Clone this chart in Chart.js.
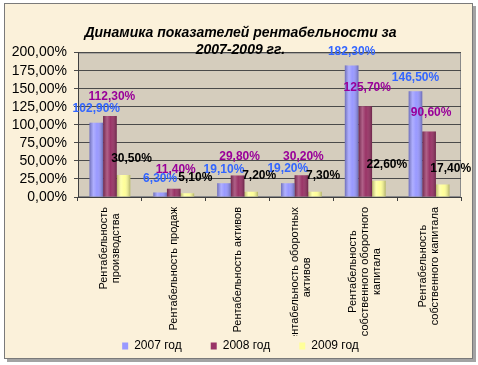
<!DOCTYPE html>
<html><head><meta charset="utf-8">
<script src="https://cdn.jsdelivr.net/npm/chart.js@4"></script>
<style>html,body{margin:0;padding:0;background:#fff;} canvas{display:block}</style>
</head><body>
<canvas id="c" width="478" height="365"></canvas>
<script>
// ---- data ----
const categories = [
  ["Рентабельность", "производства"],
  "Рентабельность продаж",
  "Рентабельность активов",
  ["Рентабельность оборотных", "активов"],
  ["Рентабельность", "собственного оборотного", "капитала"],
  ["Рентабельность", "собственного капитала"]
];
const seriesNames = ["2007 год", "2008 год", "2009 год"];
const values2007 = [102.9, 6.3, 19.1, 19.2, 182.3, 146.5];
const values2008 = [112.3, 11.4, 29.8, 30.2, 125.7, 90.6];
const values2009 = [30.5, 5.1, 7.2, 7.3, 22.6, 17.4];
const yMin = 0, yMax = 200, yStep = 25;
const titleLines = ["Динамика показателей рентабельности за", "2007-2009 гг."];

const fmt = v => v.toFixed(2).replace('.', ',') + '%';

const barColors = ['#9999ff', '#993366', '#ffff99'];
const labelColors = ['#3366ff', '#990099', '#000000'];
const labelOffsets = [[0, -14], [2, -19], [8, -16]];

const framePlugin = {
  id: 'frame',
  beforeDraw(chart) {
    const ctx = chart.ctx, a = chart.chartArea;
    ctx.save();
    ctx.fillStyle = '#ffffff';
    ctx.fillRect(0, 0, chart.width, chart.height);
    ctx.fillStyle = '#a3a3a3';
    ctx.fillRect(7, 6, 469, 356);
    ctx.fillStyle = '#fbf1da';
    ctx.fillRect(4.5, 3.5, 468, 355);
    ctx.strokeStyle = '#7a7a7a';
    ctx.lineWidth = 1;
    ctx.strokeRect(4.5, 3.5, 468, 355);
    ctx.fillStyle = '#d5cdbd';
    ctx.fillRect(a.left, a.top, a.right - a.left, a.bottom - a.top);
    ctx.strokeStyle = '#8a8a8a';
    ctx.strokeRect(a.left + 0.5, a.top + 0.5, a.right - a.left - 1, a.bottom - a.top - 1);
    ctx.restore();
  }
};

const labelPatch = {
  id: 'labelPatch',
  afterLayout(chart) {
    const y = chart.scales.y;
    if (!y._patched) {
      y._patched = true;
      y._computeLabelArea = function () { return undefined; };
    }
    const s = chart.scales.x;
    if (s._patched) return;
    s._patched = true;
    s._computeLabelArea = function () { return undefined; };
    const origItems = s.getLabelItems;
    s.getLabelItems = function (ca) {
      const items = origItems.call(this, ca);
      const ctx = this.ctx;
      items.forEach(it => {
        if (it._c) return;
        it._c = true;
        const lines = Array.isArray(it.label) ? it.label : [it.label];
        ctx.save();
        ctx.font = it.font.string;
        let w = 0;
        lines.forEach(l => { w = Math.max(w, ctx.measureText(l).width); });
        ctx.restore();
        it.options.textAlign = 'center';
        it.options.translation[1] += w / 2;
        it.options.translation[0] -= (lines.length - 1) * it.font.lineHeight / 2;
      });
      return items;
    };
    const origDraw = s.drawLabels;
    s.drawLabels = function (ca) {
      const ctx = this.ctx;
      ctx.save();
      ctx.beginPath();
      ctx.rect(0, 0, chart.width, 336);
      ctx.clip();
      origDraw.call(this, ca);
      ctx.restore();
    };
  }
};

const barShade = {
  id: 'barShade',
  afterDatasetsDraw(chart) {
    const ctx = chart.ctx;
    chart.data.datasets.forEach((ds, i) => {
      const meta = chart.getDatasetMeta(i);
      meta.data.forEach(el => {
        const p = el.getProps(['x', 'y', 'base', 'width'], true);
        const l = p.x - p.width / 2, r = p.x + p.width / 2;
        const g = ctx.createLinearGradient(l, 0, r, 0);
        g.addColorStop(0, 'rgba(0,0,0,0.28)');
        g.addColorStop(0.3, 'rgba(255,255,255,0.22)');
        g.addColorStop(0.55, 'rgba(255,255,255,0.0)');
        g.addColorStop(1, 'rgba(0,0,0,0.30)');
        ctx.save();
        ctx.fillStyle = g;
        ctx.fillRect(l, p.y, p.width, p.base - p.y);
        ctx.restore();
      });
    });
  }
};

const valueLabels = {
  id: 'valueLabels',
  afterDatasetsDraw(chart) {
    const ctx = chart.ctx;
    ctx.save();
    ctx.font = 'bold 12px Arial, "Liberation Sans", sans-serif';
    ctx.textAlign = 'center';
    ctx.textBaseline = 'middle';
    chart.data.datasets.forEach((ds, i) => {
      const meta = chart.getDatasetMeta(i);
      ctx.fillStyle = labelColors[i];
      meta.data.forEach((el, j) => {
        const p = el.getProps(['x', 'y'], true);
        ctx.fillText(fmt(ds.data[j]), p.x + labelOffsets[i][0], p.y + labelOffsets[i][1]);
      });
    });
    ctx.restore();
  }
};

const seriesValues = [values2007, values2008, values2009];

new Chart(document.getElementById('c'), {
  type: 'bar',
  data: {
    labels: categories,
    datasets: seriesNames.map((n, i) => ({
      label: n,
      data: seriesValues[i],
      backgroundColor: barColors[i],
      borderWidth: 0,
      categoryPercentage: 0.64,
      barPercentage: 1.0
    }))
  },
  options: {
    responsive: false,
    animation: false,
    devicePixelRatio: 1,
    layout: { padding: { left: 20, right: 17, top: 0, bottom: 3 } },
    plugins: {
      title: {
        display: true,
        text: titleLines,
        color: '#000',
        font: { family: 'Arial, "Liberation Sans", sans-serif', size: 14, weight: 'bold', style: 'italic', lineHeight: 1.2 },
        padding: { top: 25, bottom: -6 }
      },
      legend: {
        position: 'bottom',
        labels: {
          color: '#000',
          font: { family: 'Arial, "Liberation Sans", sans-serif', size: 12 },
          boxWidth: 6,
          boxHeight: 7,
          padding: 29
        }
      },
      tooltip: { enabled: false }
    },
    scales: {
      x: {
        grid: { display: true, drawOnChartArea: false, drawTicks: true, tickLength: 4, color: '#404040', offset: true },
        border: { color: '#404040' },
        ticks: {
          color: '#000',
          font: { family: 'Arial, "Liberation Sans", sans-serif', size: 11, lineHeight: 1.1 },
          minRotation: 90, maxRotation: 90, padding: 6, autoSkip: false
        },
        afterFit(s) { s.height = 114; }
      },
      y: {
        min: yMin, max: yMax,
        grid: { color: '#4a4a4a', tickLength: 4 },
        border: { color: '#404040' },
        ticks: {
          stepSize: yStep,
          autoSkip: false,
          color: '#000',
          padding: 7,
          font: { family: 'Arial, "Liberation Sans", sans-serif', size: 14 },
          callback: v => fmt(v)
        },
        afterFit(s) { s.width = 58; }
      }
    }
  },
  plugins: [framePlugin, labelPatch, barShade, valueLabels]
});
</script>
</body></html>
